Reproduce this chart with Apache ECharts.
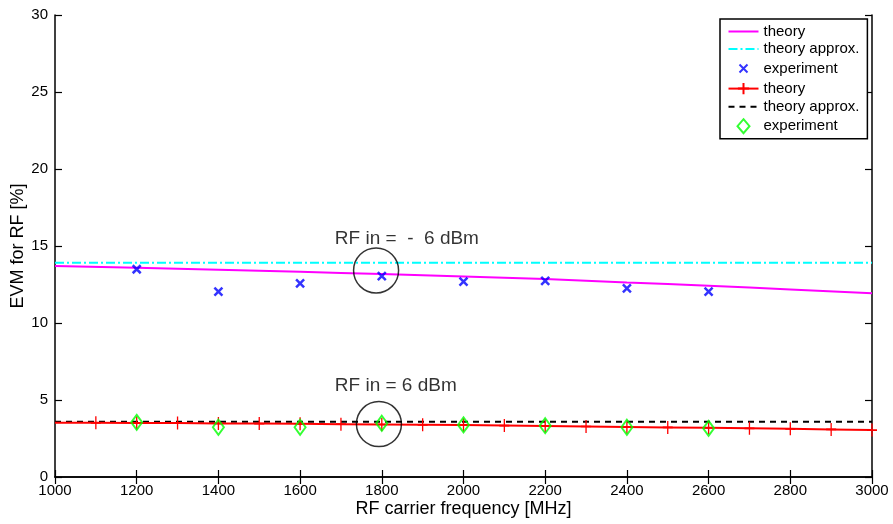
<!DOCTYPE html>
<html>
<head>
<meta charset="utf-8">
<script src="https://cdn.jsdelivr.net/npm/echarts@6/dist/echarts.min.js"></script>
<style>
html,body{margin:0;padding:0;background:#fff;}
#chart{width:893px;height:524px;}
</style>
</head>
<body>
<div id="chart"></div>
<script>
// ---- data ----
const xTicks = [1000,1200,1400,1600,1800,2000,2200,2400,2600,2800,3000];
const theoryFreq = [1000,1200,1400,1600,1800,2000,2200,2400,2600,2800,3000];
const theoryHigh = [13.70,13.58,13.45,13.32,13.18,13.02,12.85,12.63,12.42,12.18,11.93];
const approxHigh = 13.92;
const expFreq = [1200,1400,1600,1800,2000,2200,2400,2600];
const expHigh = [13.49,12.03,12.58,13.05,12.68,12.73,12.25,12.03];
const theoryLowFreq = [1000,1100,1200,1300,1400,1500,1600,1700,1800,1900,2000,2100,2200,2300,2400,2500,2600,2700,2800,2900,3000];
const theoryLow = [3.53,3.52,3.51,3.50,3.48,3.47,3.45,3.43,3.41,3.39,3.37,3.34,3.31,3.28,3.25,3.22,3.19,3.16,3.13,3.09,3.05];
const approxLow = 3.58;
const expLow = [3.55,3.23,3.23,3.49,3.38,3.33,3.23,3.16];
const annoTexts = ['RF in =  -  6 dBm','RF in = 6 dBm'];

// ---- annotation anchors (data coords) ----
const annoTextPos = [[1685,15.5],[1685,5.9]];
const circlePos = [[1786,13.41],[1793,3.44]];

const FONT = 'Liberation Sans, Arial, sans-serif';
const zip = (xs, ys) => xs.map((x,i)=>[x, ys[i]]);
const crossX = 'path://M0,0L10,10M10,0L0,10';
const plus = 'path://M5,0L5,10M0,5L10,5';
const hidden = {color:'rgba(0,0,0,0)', borderColor:'rgba(0,0,0,0)', borderWidth:0};

const chart = echarts.init(document.getElementById('chart'));
const axisLine = {show:true, lineStyle:{color:'#000', width:1.5}};
const tick = {show:true, inside:true, length:7, lineStyle:{color:'#000', width:1.2}};
chart.setOption({
  animation:false,
  backgroundColor:'#fff',
  grid:{left:55, right:21, top:15, bottom:47, containLabel:false, outerBoundsMode:'none'},
  xAxis:[{
    type:'value', min:1000, max:3000, interval:200,
    name:'RF carrier frequency [MHz]', nameLocation:'middle', nameGap:23, nameMoveOverlap:false,
    nameTextStyle:{fontFamily:FONT, fontSize:18, color:'#000'},
    axisLine, axisTick:tick,
    axisLabel:{fontFamily:FONT, fontSize:15, color:'#000', margin:6, formatter:v=>String(v)},
    splitLine:{show:false}
  },{
    type:'value', min:1000, max:3000, interval:200, position:'top',
    axisLine, axisTick:tick, axisLabel:{show:false}, splitLine:{show:false}
  }],
  yAxis:[{
    type:'value', min:0, max:30, interval:5,
    name:'EVM for RF [%]', nameLocation:'middle', nameGap:28, nameRotate:90, nameMoveOverlap:false,
    nameTextStyle:{fontFamily:FONT, fontSize:18, color:'#000'},
    axisLine, axisTick:tick,
    axisLabel:{fontFamily:FONT, fontSize:15, color:'#000', margin:7, formatter:v=>String(v)},
    splitLine:{show:false}
  },{
    type:'value', min:0, max:30, interval:5, position:'right',
    axisLine, axisTick:tick, axisLabel:{show:false}, splitLine:{show:false}
  }],
  legend:{
    data:[
      {name:'theory', itemStyle:hidden},
      {name:'theory approx.', itemStyle:hidden},
      {name:'experiment', icon:'path://M0,0M30,14M11,3L19,11M19,3L11,11'},
      {name:'theory '},
      {name:'theory approx. ', itemStyle:hidden},
      {name:'experiment ', icon:'path://M0,0M30,14M15,0L21,7L15,14L9,7Z'}
    ],
    formatter:n=>n.trim(),
    orient:'vertical', left:720, top:19, padding:[5,8,3,6],
    itemWidth:30, itemHeight:14, itemGap:2.5,
    borderColor:'#000', borderWidth:1.5, backgroundColor:'#fff',
    textStyle:{fontFamily:FONT, fontSize:15, lineHeight:15, color:'#000'}
  },
  series:[
    {name:'theory', type:'line', data:zip(theoryFreq, theoryHigh), symbol:'none', smooth:true,
      lineStyle:{color:'#ff00ff', width:2}, itemStyle:{color:'#ff00ff'}, z:3},
    {name:'theory approx.', type:'line', data:[[1000,approxHigh],[3000,approxHigh]], symbol:'none',
      lineStyle:{color:'#00ffff', width:2, type:[9,3,2,3]}, itemStyle:{color:'#00ffff'}, z:2},
    {name:'experiment', type:'scatter', data:zip(expFreq, expHigh), symbol:crossX, symbolSize:8,
      itemStyle:{color:'none', borderColor:'#0000ff', borderWidth:2.5}, z:5},
    {name:'theory ', type:'line',
      data:zip(theoryLowFreq, theoryLow).map((p,i)=>i===0?{value:p, symbol:'none'}:p),
      symbol:plus, symbolSize:[10,13], showSymbol:true,
      lineStyle:{color:'#ff0000', width:2}, itemStyle:{color:'none', borderColor:'#ff0000', borderWidth:1.5}, z:3},
    {name:'theory approx. ', type:'line', data:[[1000,approxLow],[3000,approxLow]], symbol:'none',
      lineStyle:{color:'#000', width:2, type:[6,5]}, itemStyle:{color:'#000'}, z:2},
    {name:'experiment ', type:'scatter', data:zip(expFreq, expLow), symbol:'diamond', symbolSize:[11,15],
      itemStyle:{color:'none', borderColor:'#00ff00', borderWidth:2}, z:5},
    {name:'circles', type:'scatter', data:circlePos, symbol:'circle', symbolSize:45, silent:true,
      itemStyle:{color:'none', borderColor:'#000', borderWidth:1.5}, z:6},
    {name:'labels', type:'scatter', symbolSize:0, silent:true, z:7,
      data:annoTextPos.map((p,i)=>({value:p, label:{formatter:annoTexts[i]}})),
      label:{show:true, position:'right', distance:0, fontFamily:FONT, fontSize:19, color:'#000'}}
  ]
});
</script>
</body>
</html>
